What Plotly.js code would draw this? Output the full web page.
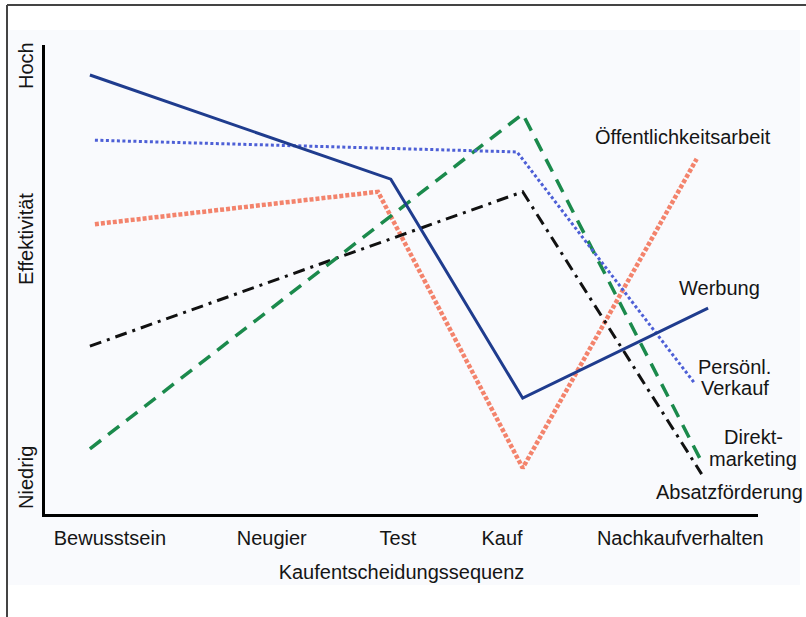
<!DOCTYPE html>
<html>
<head>
<meta charset="utf-8">
<script src="https://cdn.plot.ly/plotly-3.0.1.min.js"></script>
<style>
html,body{margin:0;padding:0;background:#ffffff;}
#chart{width:806px;height:617px;}
</style>
</head>
<body>
<div id="chart"></div>
<script>
// Stage tick labels (x position on a 0-100 sequence scale)
const stageLabels = ["Bewusstsein", "Neugier", "Test", "Kauf", "Nachkaufverhalten"];
const stagePos = [9.1, 31.8, 49.5, 64.1, 89.1];

// Effectiveness (0 = Niedrig, 100 = Hoch)
const werbungX = [6.3, 48.5, 67.0, 93.0];
const werbungY = [93.6, 71.4, 24.7, 43.9];

const verkaufX = [7.0, 66.2, 91.2];
const verkaufY = [79.7, 77.2, 27.7];

const oeffX = [7.0, 46.7, 67.0, 91.4];
const oeffY = [61.8, 68.7, 9.8, 75.7];

const direktX = [6.3, 67.0, 91.9];
const direktY = [13.9, 85.3, 11.7];

const absatzX = [6.3, 67.0, 92.1];
const absatzY = [35.8, 68.7, 8.5];

const F = "Liberation Sans, Arial, sans-serif";
const fs = 20;
const txt = "#151515";

const traces = [
  {x: oeffX, y: oeffY, mode: "lines", line: {color: "#f3836c", width: 4.5, dash: "4px,2px"}},
  {x: absatzX, y: absatzY, mode: "lines", line: {color: "#111111", width: 3, dash: "12px,6px,3px,6px"}},
  {x: direktX, y: direktY, mode: "lines", line: {color: "#1b8a4c", width: 3.5, dash: "14px,9px"}},
  {x: verkaufX, y: verkaufY, mode: "lines", line: {color: "#4d5fd6", width: 3, dash: "3px,2.5px"}},
  {x: werbungX, y: werbungY, mode: "lines", line: {color: "#1f3c8e", width: 3}}
];

function px2x(p){ return (p - 45) / 713; }
function px2y(p){ return (514 - p) / 469; }

const ann = [
  {text: "Öffentlichkeitsarbeit", xp: 683, yp: 137},
  {text: "Werbung", xp: 719, yp: 288},
  {text: "Persönl.", xp: 734, yp: 367},
  {text: "Verkauf", xp: 735, yp: 388},
  {text: "Direkt-", xp: 753, yp: 437},
  {text: "marketing", xp: 753, yp: 459},
  {text: "Absatzförderung", xp: 729, yp: 492}
].map(a => ({
  text: a.text, xref: "paper", yref: "paper", x: px2x(a.xp), y: px2y(a.yp),
  xanchor: "center", yanchor: "middle", showarrow: false,
  font: {family: F, size: fs, color: txt}
}));

const yLabels = [
  {text: "Hoch", yp: 66},
  {text: "Effektivität", yp: 239},
  {text: "Niedrig", yp: 478}
];
yLabels.forEach(l => ann.push({
  text: l.text, xref: "paper", yref: "paper", x: px2x(26), y: px2y(l.yp),
  xanchor: "center", yanchor: "middle", showarrow: false, textangle: -90,
  font: {family: F, size: fs, color: txt}
}));

const layout = {
  width: 806, height: 617,
  margin: {l: 45, r: 48, t: 45, b: 103},
  paper_bgcolor: "#ffffff",
  plot_bgcolor: "rgba(0,0,0,0)",
  showlegend: false,
  xaxis: {
    range: [0, 100], showgrid: false, zeroline: false,
    showline: true, linecolor: "#000", linewidth: 3,
    tickmode: "array", tickvals: stagePos, ticktext: stageLabels, ticks: "",
    ticklabelstandoff: 4,
    tickfont: {family: F, size: fs, color: txt},
    title: {text: "Kaufentscheidungssequenz", font: {family: F, size: fs, color: txt}, standoff: 17}
  },
  yaxis: {
    range: [0, 100], showgrid: false, zeroline: false,
    showline: true, linecolor: "#000", linewidth: 3,
    showticklabels: false, ticks: ""
  },
  annotations: ann,
  shapes: [
    {type: "rect", xref: "paper", yref: "paper",
     x0: px2x(8), x1: px2x(800), y0: px2y(585), y1: px2y(30),
     line: {width: 0}, fillcolor: "#f9fafd", layer: "below"},
    {type: "line", xref: "paper", yref: "paper",
     x0: px2x(7), x1: px2x(810), y0: px2y(5), y1: px2y(5),
     line: {color: "#444", width: 2}},
    {type: "line", xref: "paper", yref: "paper",
     x0: px2x(7), x1: px2x(7), y0: px2y(5), y1: px2y(625),
     line: {color: "#444", width: 2}}
  ]
};

Plotly.newPlot("chart", traces, layout, {displayModeBar: false, staticPlot: true});
</script>
</body>
</html>
